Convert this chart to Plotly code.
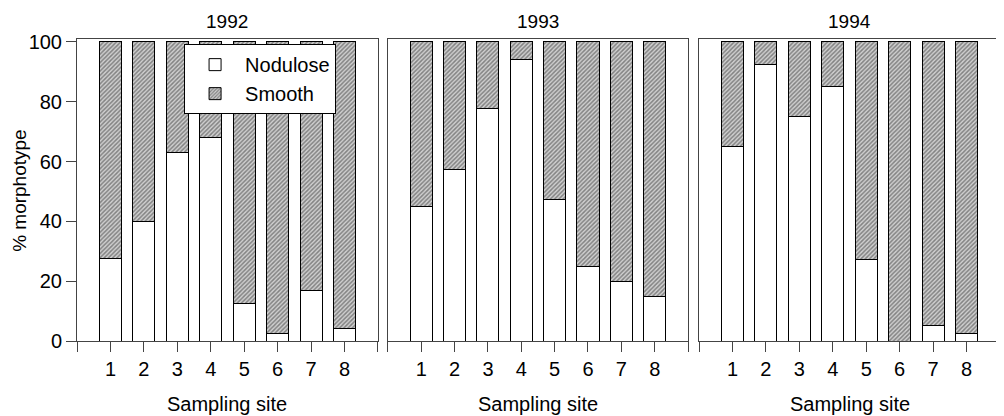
import plotly.graph_objects as go

sites = [1, 2, 3, 4, 5, 6, 7, 8]
years = ["1992", "1993", "1994"]
nodulose_1992 = [27.5, 40, 63, 68, 12.5, 2.5, 17, 4.3]
nodulose_1993 = [45, 57.3, 77.6, 94, 47.4, 25, 20, 15]
nodulose_1994 = [65, 92.5, 75, 85.2, 27.3, 0, 5.1, 2.6]
nodulose = [nodulose_1992, nodulose_1993, nodulose_1994]
smooth = [[100 - v for v in row] for row in nodulose]

FONT = "Liberation Sans, Arial, sans-serif"
hatch = dict(shape="/", size=3, solidity=0.5, fgcolor="#333333", bgcolor="#d0d0d0")

fig = go.Figure()
for i, yr in enumerate(years):
    ax = "" if i == 0 else str(i + 1)
    fig.add_trace(go.Bar(
        x=sites, y=nodulose[i], width=0.66, name="Nodulose",
        marker=dict(color="white", line=dict(color="black", width=1)),
        xaxis="x" + ax, yaxis="y" + ax, showlegend=(i == 0), legendgroup="n"))
    fig.add_trace(go.Bar(
        x=sites, y=smooth[i], width=0.66, name="Smooth",
        marker=dict(color="#d0d0d0", pattern=hatch, line=dict(color="black", width=1)),
        xaxis="x" + ax, yaxis="y" + ax, showlegend=(i == 0), legendgroup="s"))

domains = [[0, 0.3261], [0.3369, 0.662], [0.6739, 1.0]]
xticks = list(range(0, 10))
xtext = [""] + [str(s) for s in sites] + [""]
for i in range(3):
    suffix = "" if i == 0 else str(i + 1)
    fig.layout["xaxis" + suffix] = dict(
        domain=domains[i], range=[0, 9], tickvals=xticks, ticktext=xtext,
        ticks="outside", ticklen=10, tickcolor="#444", tickwidth=1,
        showline=True, linecolor="#444", linewidth=1, mirror=True,
        showgrid=False, zeroline=False, anchor="y" + suffix,
        tickfont=dict(family=FONT, size=20, color="black"))
    ydict = dict(range=[0, 101], showgrid=False, zeroline=False,
                 showline=True, linecolor="#444", linewidth=1, mirror=True,
                 anchor="x" + suffix)
    if i == 0:
        ydict.update(tickvals=[0, 20, 40, 60, 80, 100], ticks="outside", ticklen=10,
                     tickcolor="#444", tickfont=dict(family=FONT, size=20, color="black"))
    else:
        ydict.update(showticklabels=False, ticks="", matches="y")
    fig.layout["yaxis" + suffix] = ydict

annotations = []
for i, yr in enumerate(years):
    xc = (domains[i][0] + domains[i][1]) / 2
    annotations.append(dict(text=yr, x=xc, y=1.058, xref="paper", yref="paper",
                            xanchor="center", yanchor="middle", showarrow=False,
                            font=dict(family=FONT, size=19, color="black")))
    annotations.append(dict(text="Sampling site", x=xc, y=-0.208, xref="paper", yref="paper",
                            xanchor="center", yanchor="middle", showarrow=False,
                            font=dict(family=FONT, size=20, color="black")))
annotations.append(dict(text="% morphotype", x=-0.063, y=0.5, xref="paper", yref="paper",
                        xanchor="center", yanchor="middle", textangle=-90, showarrow=False,
                        font=dict(family=FONT, size=19, color="black")))

fig.update_layout(
    width=996, height=408, barmode="stack",
    margin=dict(l=69, r=4, t=31, b=75),
    plot_bgcolor="white", paper_bgcolor="white",
    annotations=annotations,
    legend=dict(x=0.116, y=0.983, xanchor="left", yanchor="top",
                bgcolor="white", bordercolor="black", borderwidth=1,
                font=dict(family=FONT, size=20, color="black"),
                traceorder="normal", itemwidth=50, tracegroupgap=0),
)

fig.write_html("out.html")
